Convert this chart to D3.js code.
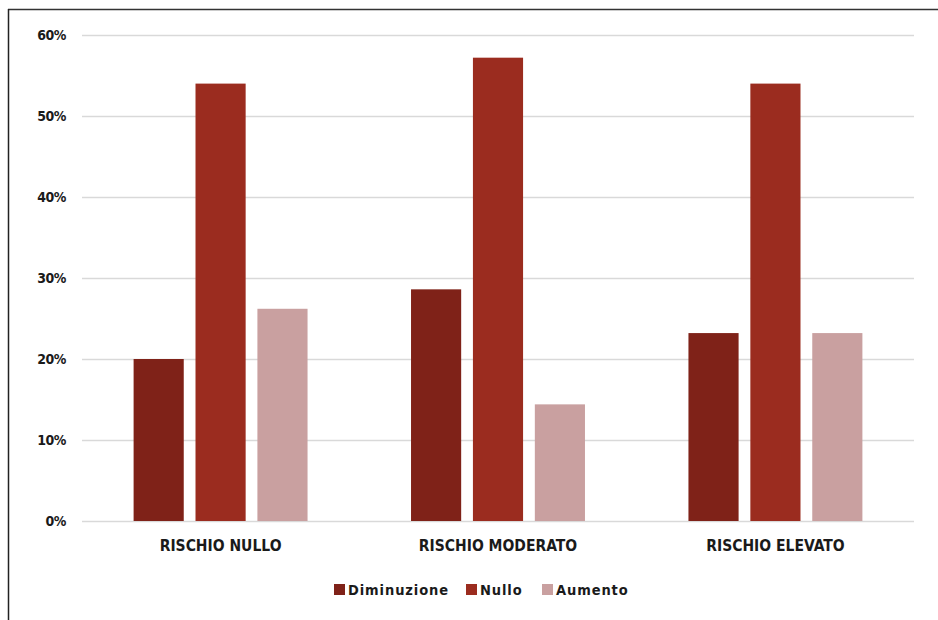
<!DOCTYPE html>
<html>
<head>
<meta charset="utf-8">
<script src="https://cdn.jsdelivr.net/npm/d3@7"></script>
<style>
  html, body { margin: 0; padding: 0; background: #fff; }
  svg { display: block; }
  text { font-family: "DejaVu Sans Condensed", "DejaVu Sans", sans-serif; fill: #1a1a1a; }
</style>
</head>
<body>
<svg id="chart" width="938" height="620"></svg>
<script>
// Risk categories and the share of each change type within them
const categories = ["RISCHIO NULLO", "RISCHIO MODERATO", "RISCHIO ELEVATO"];
const seriesNames = ["Diminuzione", "Nullo", "Aumento"];
const diminuzione = [0.20, 0.286, 0.232];
const nullo = [0.54, 0.572, 0.54];
const aumento = [0.262, 0.144, 0.232];
const yTicks = [0, 0.1, 0.2, 0.3, 0.4, 0.5, 0.6];
const colors = ["#7f2218", "#9b2c1f", "#c9a0a0"];

const seriesValues = [diminuzione, nullo, aumento];
const rows = categories.map((c, i) => ({
  category: c,
  values: seriesNames.map((s, j) => ({ series: s, value: seriesValues[j][i] }))
}));

const svg = d3.select("#chart");
const W = 938, H = 620;

// Frame lines along the top and left edge
svg.append("line").attr("x1", 8).attr("x2", W).attr("y1", 9.5).attr("y2", 9.5)
  .attr("stroke", "#333").attr("stroke-width", 1.5);
svg.append("line").attr("x1", 8.5).attr("x2", 8.5).attr("y1", 9).attr("y2", H)
  .attr("stroke", "#222").attr("stroke-width", 1.5);

const margin = { left: 82, right: 24, top: 35, bottom: 99 };
const x0 = d3.scaleBand().domain(categories)
  .range([margin.left, W - margin.right]).paddingInner(0.373).paddingOuter(0.186);
const y = d3.scaleLinear().domain([0, 0.6]).range([H - margin.bottom, margin.top]);
const x1 = d3.scaleBand().domain(seriesNames).range([0, x0.bandwidth()]).paddingInner(0.19);
const color = d3.scaleOrdinal().domain(seriesNames).range(colors);

// Horizontal gridlines with percentage labels
const yAxis = d3.axisLeft(y).tickValues(yTicks).tickFormat(d3.format(".0%"))
  .tickSize(-(W - margin.right - margin.left)).tickPadding(16);
const gy = svg.append("g").attr("transform", `translate(${margin.left},0)`).call(yAxis);
gy.select(".domain").remove();
gy.selectAll(".tick line").attr("stroke", "#d9d9d9").attr("stroke-width", 1.5);
gy.selectAll(".tick text").attr("font-size", 14).attr("font-weight", "bold")
  .attr("fill", "#1a1a1a").style("letter-spacing", "-0.5px");

// Grouped bars
const groups = svg.append("g").selectAll("g").data(rows).join("g")
  .attr("transform", d => `translate(${x0(d.category)},0)`);
groups.selectAll("rect").data(d => d.values).join("rect")
  .attr("x", d => x1(d.series))
  .attr("width", x1.bandwidth())
  .attr("y", d => y(d.value))
  .attr("height", d => y(0) - y(d.value))
  .attr("fill", d => color(d.series));

// Category labels
const xAxis = d3.axisBottom(x0).tickSize(0).tickPadding(19);
const gx = svg.append("g").attr("transform", `translate(0,${y(0)})`).call(xAxis);
gx.select(".domain").remove();
gx.selectAll(".tick text").attr("font-size", 15.5).attr("font-weight", "bold")
  .attr("fill", "#1a1a1a").style("letter-spacing", "0px");

// Legend
const legendItems = [
  { name: seriesNames[0], x: 334 },
  { name: seriesNames[1], x: 466 },
  { name: seriesNames[2], x: 542 }
];
const lg = svg.append("g").selectAll("g").data(legendItems).join("g")
  .attr("transform", d => `translate(${d.x},584)`);
lg.append("rect").attr("width", 11).attr("height", 11).attr("fill", d => color(d.name));
lg.append("text").attr("x", 14).attr("y", 11).attr("font-size", 14.5).attr("font-weight", "bold")
  .style("letter-spacing", "0.9px").text(d => d.name);
</script>
</body>
</html>
